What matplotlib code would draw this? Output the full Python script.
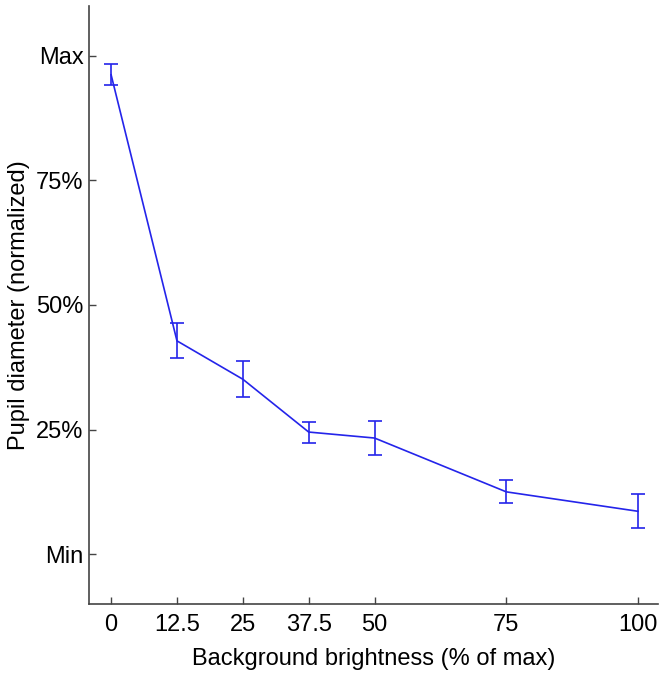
import numpy as np
import matplotlib.pyplot as plt

plt.rcParams['font.family'] = ['Liberation Sans', 'DejaVu Sans']

# Background brightness (% of max) and normalized pupil diameter
brightness = [0, 12.5, 25, 37.5, 50, 75, 100]
pupil = [0.962, 0.428, 0.351, 0.245, 0.233, 0.125, 0.086]
pupil_err = [0.021, 0.035, 0.036, 0.021, 0.034, 0.023, 0.034]

x_ticks = [0, 12.5, 25, 37.5, 50, 75, 100]
x_labels = ['0', '12.5', '25', '37.5', '50', '75', '100']
y_ticks = [0, 0.25, 0.5, 0.75, 1.0]
y_labels = ['Min', '25%', '50%', '75%', 'Max']

fig = plt.figure(figsize=(6.65, 6.74), dpi=100)
ax = fig.add_axes([0.1338, 0.1039, 0.8557, 0.8872])

ax.errorbar(brightness, pupil, yerr=pupil_err, color='#2424ea', lw=1.2,
            elinewidth=1.2, capsize=5, capthick=1.2)

ax.set_xlim(-4.2, 103.8)
ax.set_ylim(-0.1, 1.1)
ax.set_xticks(x_ticks)
ax.set_xticklabels(x_labels)
ax.set_yticks(y_ticks)
ax.set_yticklabels(y_labels)

for s in ['top', 'right']:
    ax.spines[s].set_visible(False)
for s in ['left', 'bottom']:
    ax.spines[s].set_color('#444444')
    ax.spines[s].set_linewidth(1.2)

ax.tick_params(direction='in', length=5, width=1.0, color='#444444',
               labelsize=17)
ax.tick_params(axis='y', pad=4)
ax.tick_params(axis='x', pad=7)
ax.set_xlabel('Background brightness (% of max)', fontsize=17, labelpad=9)
ax.set_ylabel('Pupil diameter (normalized)', fontsize=17, labelpad=4)

fig.savefig('out.png', dpi=100)
